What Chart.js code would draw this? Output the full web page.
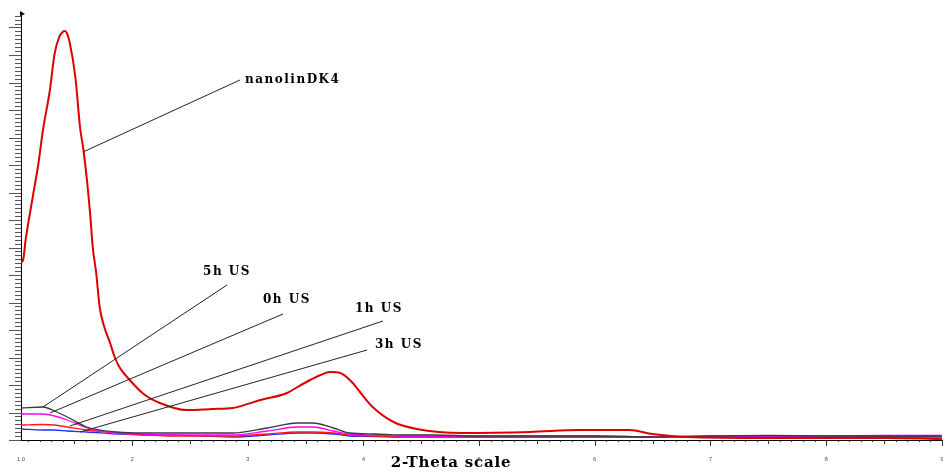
<!DOCTYPE html>
<html>
<head>
<meta charset="utf-8">
<script src="https://cdn.jsdelivr.net/npm/chart.js@4/dist/chart.umd.min.js"></script>
<style>
  html, body { margin: 0; padding: 0; background: #fff; }
  #wrap { width: 943px; height: 472px; }
</style>
</head>
<body>
<div id="wrap"><canvas id="c" width="943" height="472"></canvas></div>
<script>
// ---- data (2-theta, intensity in arbitrary units) ----
const X_MIN = 1.04, X_MAX = 9.01, Y_MAX = 426;
const xTickValues = [1.04, 2, 3, 4, 5, 6, 7, 8, 9];
const xTickLabels = ["1.0", "2", "3", "4", "5", "6", "7", "8", "9"];

const dk4X = [1.04,1.06,1.08,1.14,1.19,1.23,1.29,1.33,1.37,1.40,1.42,1.44,1.46,1.51,1.55,1.58,1.61,1.64,1.66,1.69,1.72,1.76,1.81,1.85,1.89,1.98,2.10,2.24,2.47,2.70,2.87,3.11,3.34,3.43,3.54,3.63,3.71,3.80,3.90,3.97,4.08,4.26,4.46,4.86,5.44,5.87,6.30,6.50,6.80,7.50,8.50,9.00];
const dk4Y = [177,181,200,242,276,310,350,386,403,408,409,406,398,363,313,290,260,223,193,167,133,113,97,83,73,60,46,37,30,31,32,40,47,53,60,65,68,67,58,48,33,18,11,7,8,10,10,6,3,2,2,1];

const lowX  = [1.04,1.23,1.33,1.44,1.61,1.87,2.10,2.30,2.60,2.87,3.17,3.43,3.56,3.74,3.88,4.10,4.32,4.60,5.00,5.50,6.00,6.50,7.00,7.50,8.00,8.50,9.00];
const us5hY = [32,33,29,23,13,8,7,7,7,7,12,17,17,12,7,6,5,5,4,4,4,3,4,4.5,4,4,4];
const us0hY = [26,26,24,20,12,7,6,5,5,5,9,13,13,9,6,5,4,4,4,4,4,3,3,4,4,4.5,4.5];
const us1hY = [15,15.5,15,13,10,7,5,4,4,4,6,8,8,7,5,4,3,3,3,3,3,3,4,3,3,3,1];
const us3hY = [11,10,10,9,8,6,5,5,4,3,5,7,7,6,4,3.5,3,3,3,3,3,3,3,3.5,3,3,3];

const seriesNames = ["nanolinDK4", "5h US", "0h US", "1h US", "3h US"];

// leader lines: [name, startX, startY, endX, endY, textX, textY]
const labelAnchors = [
  ["nanolinDK4", 1.576, 288, 2.933, 360, 2.977, 360],
  ["5h US",      1.230,  33, 2.821, 155, 2.614, 168],
  ["0h US",      1.291,  27, 3.305, 126, 3.132, 140],
  ["1h US",      1.464,  14, 4.169, 119, 3.927, 131],
  ["3h US",      1.551,   8, 4.031,  90, 4.100,  95]
];
const axisTitle = "2-Theta scale";

// ---- build datasets ----
function pts(xs, ys) { return xs.map((x, i) => ({ x: x, y: ys[i] })); }
const datasets = [
  { label: seriesNames[0], data: pts(dk4X, dk4Y), borderColor: '#dc0000', borderWidth: 2 },
  { label: seriesNames[1], data: pts(lowX, us5hY), borderColor: '#3a3a3a', borderWidth: 1.3 },
  { label: seriesNames[2], data: pts(lowX, us0hY), borderColor: '#ff00ff', borderWidth: 1.3 },
  { label: seriesNames[3], data: pts(lowX, us1hY), borderColor: '#ff1a1a', borderWidth: 1.3 },
  { label: seriesNames[4], data: pts(lowX, us3hY), borderColor: '#2a2aff', borderWidth: 1.3 }
].map(d => Object.assign(d, { pointRadius: 0, pointHoverRadius: 0, fill: false, cubicInterpolationMode: 'monotone' }));

const decorPlugin = {
  id: 'decor',
  afterDraw(chart) {
    const ctx = chart.ctx, xs = chart.scales.x, ys = chart.scales.y;
    const area = chart.chartArea;
    ctx.save();
    // y-axis tick marks (major every 27.5 units, 7 minor per major)
    ctx.strokeStyle = '#555';
    ctx.lineWidth = 1;
    const minor = 27.5 / 7;
    for (let i = 0; i * minor <= Y_MAX + 0.01; i++) {
      const py = Math.round(ys.getPixelForValue(i * minor)) + 0.5;
      const len = (i % 7 === 0) ? 12 : 6;
      ctx.beginPath();
      ctx.moveTo(area.left - len, py);
      ctx.lineTo(area.left, py);
      ctx.stroke();
    }
    // top arrow of y-axis
    ctx.fillStyle = '#000';
    ctx.beginPath();
    ctx.moveTo(area.left - 1, area.top - 3);
    ctx.lineTo(area.left + 4, area.top);
    ctx.lineTo(area.left - 1, area.top + 2);
    ctx.closePath();
    ctx.fill();
    // x-axis tick marks
    ctx.strokeStyle = '#333';
    for (let k = 11; k <= 90; k++) {
      const v = k / 10;
      const px = Math.round(xs.getPixelForValue(v)) + 0.5;
      const len = (k % 10 === 0) ? 6 : (k % 5 === 0 ? 4 : 2);
      ctx.beginPath();
      ctx.moveTo(px, area.bottom);
      ctx.lineTo(px, area.bottom + len);
      ctx.stroke();
    }
    // leader lines and labels
    ctx.strokeStyle = '#222';
    ctx.lineWidth = 1;
    ctx.fillStyle = '#000';
    ctx.font = 'bold 12px "DejaVu Serif", "Liberation Serif", serif';
    ctx.letterSpacing = '1.5px';
    ctx.textBaseline = 'middle';
    ctx.textAlign = 'left';
    labelAnchors.forEach(a => {
      ctx.beginPath();
      ctx.moveTo(xs.getPixelForValue(a[1]), ys.getPixelForValue(a[2]));
      ctx.lineTo(xs.getPixelForValue(a[3]), ys.getPixelForValue(a[4]));
      ctx.stroke();
      ctx.fillText(a[0], xs.getPixelForValue(a[5]), ys.getPixelForValue(a[6]));
    });
    // axis title
    ctx.font = 'bold 15px "DejaVu Serif", "Liberation Serif", serif';
    ctx.letterSpacing = '0.8px';
    ctx.textAlign = 'center';
    ctx.textBaseline = 'middle';
    ctx.fillText(axisTitle, xs.getPixelForValue(4.757), area.bottom + 23);
    ctx.restore();
  }
};

new Chart(document.getElementById('c'), {
  type: 'line',
  data: { datasets: datasets },
  options: {
    responsive: false,
    animation: false,
    devicePixelRatio: 1,
    layout: { autoPadding: false, padding: { left: 0, top: 14, right: 0, bottom: 0 } },
    plugins: { legend: { display: false }, tooltip: { enabled: false } },
    scales: {
      x: {
        type: 'linear', min: X_MIN, max: X_MAX,
        grid: { display: false },
        border: { display: true, color: '#000', width: 1 },
        afterBuildTicks: s => { s.ticks = xTickValues.map(v => ({ value: v })); },
        ticks: {
          autoSkip: false, maxRotation: 0, padding: 8,
          font: { size: 6 }, color: '#555',
          callback: (v) => { const i = xTickValues.indexOf(v); return i >= 0 ? xTickLabels[i] : ''; }
        },
        afterFit: s => { s.height = 32; s.paddingLeft = 0; s.paddingRight = 0; }
      },
      y: {
        type: 'linear', min: 0, max: Y_MAX,
        grid: { display: false },
        border: { display: true, color: '#000', width: 1 },
        ticks: { display: false },
        afterFit: s => { s.width = 21; s.paddingTop = 0; s.paddingBottom = 0; }
      }
    }
  },
  plugins: [decorPlugin]
});
</script>
</body>
</html>
